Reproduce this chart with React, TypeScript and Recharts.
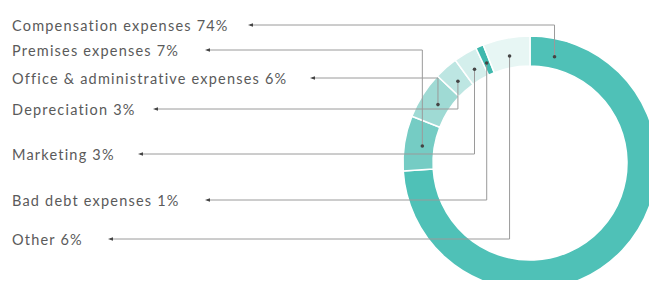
import { PieChart, Pie, Cell } from "recharts";

const categories = [
  "Compensation expenses",
  "Premises expenses",
  "Office & administrative expenses",
  "Depreciation",
  "Marketing",
  "Bad debt expenses",
  "Other",
];
const shares = [74, 7, 6, 3, 3, 1, 6];

const sliceColors = ["#4fc1b7", "#75ccc4", "#9fdad4", "#bde6e2", "#d4efec", "#3fb8ad", "#e7f6f4"];
// leader line y and arrow x for each label
const rowY = [25, 50, 78, 109, 154, 200, 239];
const arrowX = [250, 207, 312, 155, 140, 207, 110];

const data = categories.map((name, i) => ({ name, value: shares[i] }));

const RAD = Math.PI / 180;

function Leader(props: any) {
  const { cx, cy, innerRadius, midAngle, startAngle, index, name, value } = props;
  // the big slice has its pointer near the top, the others at the middle
  const angle = index === 0 ? startAngle - 13 : midAngle;
  const r = innerRadius + 12;
  const dx = cx + r * Math.cos(-angle * RAD);
  const dy = cy + r * Math.sin(-angle * RAD);
  const ly = rowY[index];
  const ax = arrowX[index];
  return (
    <g>
      <polyline
        points={`${dx},${dy} ${dx},${ly} ${ax},${ly}`}
        fill="none"
        stroke="#9a9a9a"
        strokeWidth={1}
      />
      <circle cx={dx} cy={dy} r={1.8} fill="#444" />
      <path d={`M${ax - 2},${ly} L${ax + 3},${ly - 1.8} L${ax + 3},${ly + 1.8} Z`} fill="#444" />
      <text
        x={12}
        y={ly}
        dominantBaseline="central"
        fill="#5a5a5a"
        fontSize={14.5}
        fontFamily="Lato"
        letterSpacing={1.2}
      >
        {`${name} ${value}%`}
      </text>
    </g>
  );
}

export default function App() {
  return (
    <PieChart width={657} height={288} margin={{ top: 0, right: 0, bottom: 0, left: 0 }} style={{ margin: -8 }}>
      <Pie
        data={data}
        dataKey="value"
        nameKey="name"
        cx={530}
        cy={163}
        innerRadius={97}
        outerRadius={127}
        startAngle={90}
        endAngle={-270}
        stroke="#fff"
        strokeWidth={1.5}
        label={Leader}
        labelLine={false}
        isAnimationActive={false}
      >
        {data.map((d, i) => (
          <Cell key={d.name} fill={sliceColors[i]} />
        ))}
      </Pie>
    </PieChart>
  );
}
